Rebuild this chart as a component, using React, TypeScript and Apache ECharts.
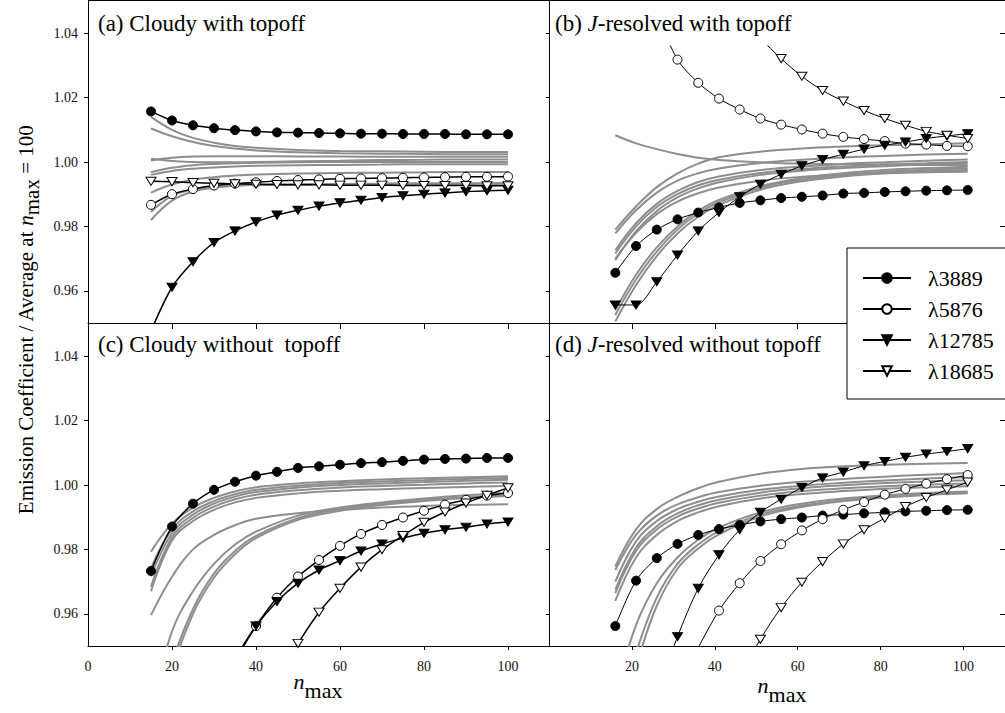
import React, { useEffect, useRef } from 'react';
import * as echarts from 'echarts';

const FONT = 'Liberation Serif, Times New Roman, serif';

// marker x positions
const xCloudy = [15, 20, 25, 30, 35, 40, 45, 50, 55, 60, 65, 70, 75, 80, 85, 90, 95, 100];
const xJres = [16, 21, 26, 31, 36, 41, 46, 51, 56, 61, 66, 71, 76, 81, 86, 91, 96, 101];
// x positions of the gray (other lines) curves
const xGrayCloudy = [15, 20, 25, 30, 35, 40, 50, 60, 70, 80, 90, 100];
const xGrayJres = [16, 21, 26, 31, 36, 41, 51, 61, 71, 81, 91, 101];

const yTicks = [0.96, 0.98, 1.0, 1.02, 1.04];
const xTicksLeft = [0, 20, 40, 60, 80, 100];
const xTicksRight = [20, 40, 60, 80, 100];

const names = ['λ3889', 'λ5876', 'λ12785', 'λ18685'];

// (a) Cloudy with topoff
const a3889 = [1.0157, 1.0129, 1.0114, 1.0105, 1.0099, 1.0095, 1.0092, 1.0091, 1.009, 1.0089, 1.0088, 1.0088, 1.0087, 1.0087, 1.0087, 1.0086, 1.0086, 1.0086];
const a5876 = [0.9867, 0.99, 0.9916, 0.9927, 0.9933, 0.9937, 0.9941, 0.9944, 0.9946, 0.9948, 0.9949, 0.995, 0.9951, 0.9952, 0.9953, 0.9954, 0.9954, 0.9955];
const a12785 = [0.9475, 0.9611, 0.969, 0.975, 0.9786, 0.9814, 0.9835, 0.985, 0.9863, 0.9873, 0.9881, 0.989, 0.9895, 0.99, 0.9904, 0.9908, 0.9911, 0.9912];
const a18685 = [0.994, 0.9939, 0.9936, 0.9934, 0.9932, 0.9931, 0.993, 0.9929, 0.9929, 0.9928, 0.9928, 0.9928, 0.9927, 0.9927, 0.9927, 0.9927, 0.9926, 0.9926];

// (b) J-resolved with topoff
const b3889 = [0.9656, 0.9739, 0.979, 0.9822, 0.9843, 0.9859, 0.9873, 0.9881, 0.9888, 0.9892, 0.9896, 0.9902, 0.9904, 0.9907, 0.9909, 0.9911, 0.9912, 0.9913];
const b5876 = [null, null, 1.046, 1.0318, 1.0246, 1.0197, 1.0163, 1.0135, 1.0116, 1.0101, 1.0088, 1.0078, 1.0071, 1.0065, 1.0057, 1.0054, 1.005, 1.0049];
const b12785 = [0.9556, 0.9556, 0.9628, 0.9711, 0.9786, 0.9843, 0.9892, 0.9931, 0.9962, 0.9988, 1.0008, 1.0024, 1.004, 1.0052, 1.0062, 1.0073, 1.0081, 1.0088];
const b18685 = [null, null, null, null, null, null, 1.046, 1.0385, 1.0321, 1.0266, 1.0222, 1.0189, 1.016, 1.0135, 1.0114, 1.0095, 1.0083, 1.0073];

// (c) Cloudy without topoff
const c3889 = [0.9733, 0.9871, 0.9942, 0.9985, 1.001, 1.0029, 1.0041, 1.0053, 1.0058, 1.0063, 1.0068, 1.0071, 1.0075, 1.0079, 1.0081, 1.0082, 1.0084, 1.0084];
const c5876 = [null, null, null, null, 0.9455, 0.9562, 0.965, 0.9716, 0.9767, 0.9811, 0.9848, 0.9876, 0.9899, 0.992, 0.9939, 0.9954, 0.9967, 0.9975];
const c12785 = [null, null, null, null, 0.946, 0.9562, 0.9638, 0.9695, 0.9736, 0.9765, 0.9795, 0.9817, 0.9835, 0.985, 0.9861, 0.9869, 0.9879, 0.9885];
const c18685 = [null, null, null, null, null, null, 0.94, 0.9508, 0.9605, 0.9679, 0.9745, 0.9799, 0.9843, 0.9884, 0.9916, 0.9944, 0.9968, 0.9991];

// (d) J-resolved without topoff
const d3889 = [0.9562, 0.9703, 0.9773, 0.9817, 0.9845, 0.9863, 0.9876, 0.9887, 0.9894, 0.9899, 0.9905, 0.9908, 0.9912, 0.9915, 0.9918, 0.992, 0.9922, 0.9923];
const d5876 = [null, null, null, null, 0.9495, 0.961, 0.9695, 0.9764, 0.9816, 0.9859, 0.9894, 0.9923, 0.9947, 0.997, 0.9988, 1.0004, 1.0018, 1.0031];
const d12785 = [null, null, 0.935, 0.9529, 0.9679, 0.9783, 0.9861, 0.9915, 0.9956, 0.9992, 1.0022, 1.004, 1.006, 1.0073, 1.0086, 1.0096, 1.0104, 1.0113];
const d18685 = [null, null, null, null, null, null, 0.94, 0.9521, 0.9619, 0.9698, 0.9762, 0.9817, 0.9861, 0.9897, 0.9933, 0.9961, 0.9985, 1.0009];

// gray lines (other emission lines)
const grayA = [
  [1.014, 1.01, 1.0075, 1.006, 1.005, 1.0044, 1.0037, 1.0034, 1.0033, 1.0032, 1.0031, 1.0031],
  [1.0104, 1.008, 1.0062, 1.005, 1.0042, 1.0036, 1.003, 1.0027, 1.0026, 1.0025, 1.0024, 1.0024],
  [1.0005, 1.0013, 1.0017, 1.0018, 1.0018, 1.0018, 1.0017, 1.0017, 1.0016, 1.0016, 1.0016, 1.0016],
  [1.001, 1.0003, 1.0, 0.9999, 0.9999, 1.0, 1.0002, 1.0004, 1.0006, 1.0007, 1.0008, 1.0008],
  [0.9968, 0.9982, 0.999, 0.9994, 0.9996, 0.9998, 0.9999, 1.0, 1.0, 1.0, 1.0, 1.0],
  [0.996, 0.9972, 0.9979, 0.9983, 0.9986, 0.9988, 0.999, 0.9991, 0.9992, 0.9993, 0.9993, 0.9993],
  [0.9905, 0.993, 0.9945, 0.9953, 0.9958, 0.9961, 0.9964, 0.9966, 0.9967, 0.9968, 0.9969, 0.9969],
  [0.982, 0.988, 0.9908, 0.992, 0.9926, 0.9929, 0.9931, 0.9932, 0.9933, 0.9934, 0.9934, 0.9935],
  [0.9845, 0.9895, 0.9915, 0.9923, 0.9927, 0.9929, 0.993, 0.9931, 0.9931, 0.9931, 0.9932, 0.9932],
];
const grayB = [
  [1.0083, 1.0058, 1.004, 1.0025, 1.0013, 1.0006, 0.9999, 0.9995, 0.9993, 0.9992, 0.9991, 0.999],
  [0.979, 0.9862, 0.9922, 0.9965, 0.9995, 1.0015, 1.0032, 1.0042, 1.0048, 1.0052, 1.0055, 1.0058],
  [0.9778, 0.985, 0.9905, 0.9942, 0.9965, 0.998, 0.9997, 1.0007, 1.0014, 1.0019, 1.0023, 1.0026],
  [0.9726, 0.981, 0.987, 0.991, 0.9938, 0.9955, 0.9975, 0.9986, 0.9994, 0.9999, 1.0004, 1.0008],
  [0.9716, 0.98, 0.986, 0.99, 0.9928, 0.9945, 0.9966, 0.9978, 0.9986, 0.9992, 0.9996, 1.0],
  [0.9695, 0.9785, 0.9848, 0.989, 0.9918, 0.9937, 0.996, 0.9973, 0.9981, 0.9987, 0.9992, 0.9995],
  [0.97, 0.978, 0.9838, 0.9877, 0.9903, 0.9921, 0.9942, 0.9954, 0.9961, 0.9965, 0.9968, 0.997],
  [0.954, 0.965, 0.9735, 0.98, 0.9848, 0.9882, 0.9925, 0.995, 0.9965, 0.9975, 0.9981, 0.9985],
  [0.9525, 0.9635, 0.9722, 0.979, 0.984, 0.9875, 0.992, 0.9945, 0.996, 0.997, 0.9976, 0.998],
  [0.9505, 0.9618, 0.9708, 0.9778, 0.983, 0.9867, 0.9914, 0.994, 0.9955, 0.9965, 0.9971, 0.9975],
];
const grayC = [
  [0.9793, 0.988, 0.993, 0.996, 0.998, 0.9993, 1.0005, 1.0012, 1.0017, 1.0021, 1.0024, 1.0027],
  [0.9742, 0.9862, 0.9918, 0.995, 0.9971, 0.9985, 0.9998, 1.0006, 1.0011, 1.0015, 1.0019, 1.0022],
  [0.9716, 0.985, 0.9908, 0.9942, 0.9964, 0.9978, 0.9992, 1.0, 1.0005, 1.0009, 1.0013, 1.0016],
  [0.9684, 0.9838, 0.9898, 0.9933, 0.9956, 0.997, 0.9984, 0.9992, 0.9997, 1.0001, 1.0005, 1.0008],
  [0.967, 0.9828, 0.9888, 0.9923, 0.9946, 0.996, 0.9974, 0.9982, 0.9987, 0.9991, 0.9994, 0.9997],
  [0.9596, 0.9715, 0.98, 0.9845, 0.9875, 0.9895, 0.9912, 0.9922, 0.993, 0.9935, 0.9938, 0.994],
  [0.93, 0.9545, 0.967, 0.9755, 0.9815, 0.9855, 0.9905, 0.993, 0.9946, 0.9958, 0.9968, 0.9976],
  [0.918, 0.9445, 0.9615, 0.9725, 0.9795, 0.9842, 0.9897, 0.9925, 0.9942, 0.9954, 0.9962, 0.9968],
  [0.912, 0.942, 0.96, 0.9712, 0.9785, 0.9835, 0.9892, 0.992, 0.9938, 0.995, 0.996, 0.9966],
];
const grayD = [
  [0.9747, 0.9862, 0.9925, 0.9963, 0.999, 1.001, 1.0035, 1.005, 1.0058, 1.0063, 1.0066, 1.0068],
  [0.9736, 0.9845, 0.9905, 0.994, 0.9962, 0.9978, 0.9998, 1.001, 1.0019, 1.0026, 1.0032, 1.0037],
  [0.97, 0.9825, 0.9888, 0.9925, 0.9948, 0.9964, 0.9985, 0.9998, 1.0007, 1.0014, 1.002, 1.0025],
  [0.9674, 0.9805, 0.9872, 0.9912, 0.9937, 0.9954, 0.9976, 0.999, 0.9999, 1.0006, 1.0011, 1.0015],
  [0.9664, 0.9795, 0.9862, 0.9902, 0.9927, 0.9945, 0.9967, 0.9981, 0.999, 0.9996, 1.0001, 1.0005],
  [0.964, 0.9775, 0.9845, 0.9888, 0.9915, 0.9934, 0.9958, 0.9972, 0.9981, 0.9988, 0.9993, 0.9996],
  [0.935, 0.9565, 0.9695, 0.9775, 0.983, 0.9868, 0.9915, 0.9942, 0.9958, 0.9968, 0.9975, 0.998],
  [0.928, 0.948, 0.965, 0.9755, 0.9815, 0.9857, 0.9908, 0.9936, 0.9953, 0.9964, 0.9971, 0.9976],
  [0.925, 0.944, 0.9625, 0.974, 0.9803, 0.9847, 0.9902, 0.9932, 0.995, 0.9961, 0.9969, 0.9974],
];

const TRI = 'path://M0,0L10,0L5,9Z';

function pairs(xs: number[], ys: (number | null)[]) {
  const out: number[][] = [];
  ys.forEach((v, i) => {
    if (v !== null && v !== undefined) out.push([xs[i], v]);
  });
  return out;
}

function blackSeries(gi: number, xs: number[], sets: (number | null)[][], lw: number) {
  const styles = [
    { symbol: 'circle', size: 9, fill: '#000' },
    { symbol: 'circle', size: 9, fill: '#fff' },
    { symbol: TRI, size: [10, 9], fill: '#000' },
    { symbol: TRI, size: [10, 9], fill: '#fff' },
  ];
  return sets.map((ys, k) => ({
    type: 'line',
    name: names[k],
    xAxisIndex: gi,
    yAxisIndex: gi,
    data: pairs(xs, ys),
    smooth: 0.3,
    symbol: styles[k].symbol,
    symbolSize: styles[k].size,
    symbolKeepAspect: true,
    showAllSymbol: true,
    lineStyle: { color: '#000', width: lw },
    itemStyle: { color: styles[k].fill, borderColor: '#000', borderWidth: 1 },
    emphasis: { disabled: true },
    silent: true,
    z: 5,
  }));
}

function graySeries(gi: number, xs: number[], sets: number[][]) {
  return sets.map((ys) => ({
    type: 'line',
    name: 'other',
    xAxisIndex: gi,
    yAxisIndex: gi,
    data: pairs(xs, ys),
    smooth: 0.4,
    symbol: 'none',
    lineStyle: { color: '#8e8e8e', width: 2 },
    emphasis: { disabled: true },
    silent: true,
    z: 3,
  }));
}

const richTitle = {
  r: { fontSize: 23, fontFamily: FONT, fill: '#000', lineHeight: 24 },
  i: { fontSize: 23, fontFamily: FONT, fontStyle: 'italic', fill: '#000', lineHeight: 24 },
};

export default function App() {
  const ref = useRef<HTMLDivElement>(null);
  useEffect(() => {
    if (!ref.current) return;
    const chart = echarts.init(ref.current, undefined, { renderer: 'svg' });

    const grids = [
      { left: 88, top: 1, width: 462, height: 322 },
      { left: 549, top: 1, width: 463, height: 322 },
      { left: 88, top: 324, width: 462, height: 322 },
      { left: 549, top: 324, width: 463, height: 322 },
    ];

    const labelStyle = { fontFamily: FONT, fontSize: 14, color: '#111' };

    const xAxes = grids.map((_, gi) => {
      const bottom = gi >= 2;
      const right = gi % 2 === 1;
      const ticks = right ? xTicksRight : xTicksLeft;
      return {
        type: 'value',
        gridIndex: gi,
        min: 0,
        max: 110,
        axisLine: { show: true, onZero: false, lineStyle: { color: '#000', width: 1 } },
        axisTick: {
          show: true,
          inside: false,
          length: bottom ? 4 : 6,
          customValues: xTicksRight,
          lineStyle: { color: '#000' },
        },
        axisLabel: {
          show: bottom,
          customValues: ticks,
          margin: 13,
          ...labelStyle,
        },
        splitLine: { show: false },
      };
    });

    const yAxes: any[] = grids.map((_, gi) => {
      const right = gi % 2 === 1;
      return {
        type: 'value',
        gridIndex: gi,
        min: 0.95,
        max: 1.05,
        axisLine: { show: true, onZero: false, lineStyle: { color: '#000', width: 1 } },
        axisTick: {
          show: true,
          inside: false,
          length: right ? 3 : 4,
          customValues: yTicks,
          lineStyle: { color: '#000' },
        },
        axisLabel: {
          show: !right,
          customValues: yTicks,
          margin: 10,
          formatter: (v: number) => v.toFixed(2),
          ...labelStyle,
        },
        splitLine: { show: false },
      };
    });
    // inside ticks for the right-hand panels
    [1, 3].forEach((gi) => {
      yAxes.push({
        type: 'value',
        gridIndex: gi,
        min: 0.95,
        max: 1.05,
        axisLine: { show: false, onZero: false },
        axisTick: { show: true, inside: true, length: 5, customValues: yTicks, lineStyle: { color: '#000' } },
        axisLabel: { show: false },
        splitLine: { show: false },
      });
    });

    const series: any[] = [
      ...graySeries(0, xGrayCloudy, grayA),
      ...graySeries(1, xGrayJres, grayB),
      ...graySeries(2, xGrayCloudy, grayC),
      ...graySeries(3, xGrayJres, grayD),
      ...blackSeries(0, xCloudy, [a3889, a5876, a12785, a18685], 1.5),
      ...blackSeries(1, xJres, [b3889, b5876, b12785, b18685], 1),
      ...blackSeries(2, xCloudy, [c3889, c5876, c12785, c18685], 1.5),
      ...blackSeries(3, xJres, [d3889, d5876, d12785, d18685], 1),
    ];

    const titleBox = (x: number, y: number, text: string, pad: number[]) => ({
      type: 'text',
      x,
      y,
      z: 50,
      style: {
        text,
        rich: richTitle,
        align: 'left',
        verticalAlign: 'middle',
        backgroundColor: '#fff',
        padding: pad,
      },
    });

    const subRich = (fs: number, shift: number) => ({
      r: { fontSize: fs, fontFamily: FONT, fill: '#000', lineHeight: fs, verticalAlign: 'top' },
      i: { fontSize: fs, fontFamily: FONT, fontStyle: 'italic', fill: '#000', lineHeight: fs, verticalAlign: 'top' },
      s: { fontSize: fs, fontFamily: FONT, fill: '#000', lineHeight: fs, verticalAlign: 'top', padding: [shift, 0, 0, 0] },
    });

    const option: any = {
      animation: false,
      textStyle: { fontFamily: FONT },
      grid: grids,
      xAxis: xAxes,
      yAxis: yAxes,
      series,
      legend: {
        data: names,
        orient: 'vertical',
        left: 847,
        top: 248,
        itemWidth: 48,
        itemHeight: 12,
        itemGap: 7,
        padding: [18, 40, 16, 15],
        backgroundColor: '#fff',
        borderColor: '#000',
        borderWidth: 1,
        borderRadius: 0,
        selectedMode: false,
        textStyle: { fontFamily: FONT, fontSize: 22, color: '#000', lineHeight: 24, padding: [0, 0, 0, 12] },
        z: 20,
      },
      graphic: [
        titleBox(95, 23, '{r|(a) Cloudy with topoff}', [4, 3, 4, 3]),
        titleBox(553, 23, '{r|(b) }{i|J}{r|-resolved with topoff}', [11, 4, 10, 2]),
        titleBox(95, 344, '{r|(c) Cloudy without  topoff}', [3, 3, 3, 3]),
        titleBox(553, 344, '{r|(d) }{i|J}{r|-resolved without topoff}', [3, 3, 3, 2]),
        {
          type: 'line',
          z: 100,
          shape: { x1: 88, y1: 0.5, x2: 1005, y2: 0.5 },
          style: { stroke: '#000', lineWidth: 1 },
        },
        {
          type: 'text',
          x: 318,
          y: 670,
          z: 50,
          style: { text: '{i|n}{s|max}', rich: subRich(22, 9), align: 'center', verticalAlign: 'top' },
        },
        {
          type: 'text',
          x: 782,
          y: 674,
          z: 50,
          style: { text: '{i|n}{s|max}', rich: subRich(22, 9), align: 'center', verticalAlign: 'top' },
        },
        {
          type: 'text',
          x: 26,
          y: 320,
          rotation: Math.PI / 2,
          z: 50,
          style: {
            text: '{r|Emission Coefficient / Average at }{i|n}{s|max}{r| = 100}',
            rich: subRich(21, 6),
            align: 'center',
            verticalAlign: 'middle',
          },
        },
      ],
    };

    chart.setOption(option);
    return () => chart.dispose();
  }, []);

  return (
    <div
      ref={ref}
      style={{ position: 'fixed', left: 0, top: 0, width: 1005, height: 713, background: '#fff' }}
    />
  );
}
